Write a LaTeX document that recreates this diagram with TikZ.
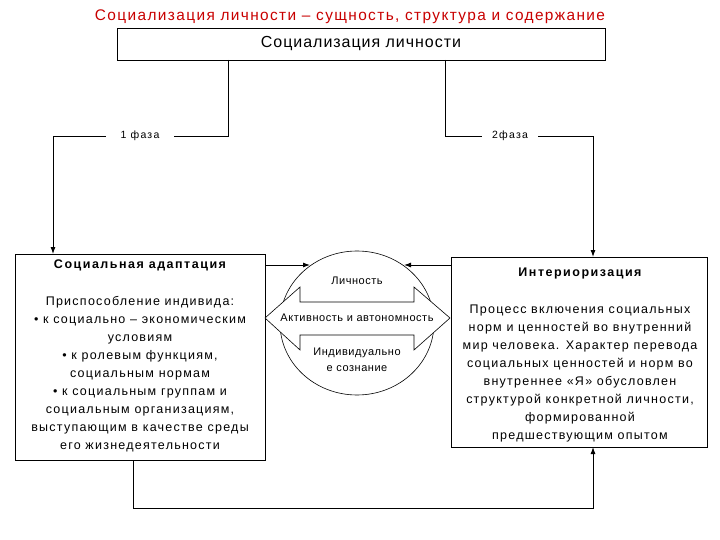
\documentclass[tikz,border=0pt]{standalone}
\usepackage{fontspec}
\setmainfont{Liberation Sans}
\newfontfamily\bodyf[LetterSpace=10]{Liberation Sans}
\newfontfamily\headf[LetterSpace=12]{Liberation Sans}
\newfontfamily\titlef[LetterSpace=9]{Liberation Sans}
\newfontfamily\topf[LetterSpace=6]{Liberation Sans}
\newfontfamily\midf[LetterSpace=5]{Liberation Sans}
\newfontfamily\phasef[LetterSpace=12]{Liberation Sans}
\usetikzlibrary{arrows.meta}
\definecolor{titlered}{RGB}{200,0,0}
\begin{document}
\begin{tikzpicture}[x=1pt,y=-1pt,
  line width=0.9pt,
  conn/.style={draw=black,line width=0.9pt},
  arr/.style={conn,-{Latex[length=7pt,width=5pt]}},
  box/.style={draw=black,line width=0.9pt,fill=white},
  thinbox/.style={draw=black,line width=0.6pt,fill=white},
  txt/.style={inner sep=0pt,align=center,font=\bodyf\fontsize{12.5}{18}\selectfont},
  head/.style={inner sep=0pt,align=center,font=\headf\bfseries\fontsize{12.5}{18}\selectfont},
  phase/.style={fill=white,inner ysep=2pt,font=\phasef\fontsize{10.5}{12}\selectfont},
  mid/.style={inner sep=0pt,align=center,font=\midf\fontsize{11}{16}\selectfont}
]
\useasboundingbox (0,0) rectangle (720,540);
% title
\node[text=titlered,font=\titlef\fontsize{15.4}{18}\selectfont] (title) at (350,17) {Социализация личности – сущность, структура и содержание};
% top box
\draw[box] (117,28) rectangle (605,60);
\node[font=\topf\fontsize{16}{18}\selectfont] (top) at (361,44) {Социализация личности};
\coordinate (topL) at (228,60);
\coordinate (topR) at (445,60);
% left box
\draw[box] (15,254) rectangle (265,460);
\node[head] (lt) at (140,265) {Социальная адаптация};
\node[txt] (lb) at (140,374) {Приспособление индивида:\\• к социально – экономическим\\условиям\\• к ролевым функциям,\\социальным нормам\\• к социальным группам и\\социальным организациям,\\выступающим в качестве среды\\его жизнедеятельности};
% right box
\draw[box] (451,257) rectangle (707,447);
\node[head] (rt) at (580,273) {Интериоризация};
\node[txt] (rb) at (580,373.5) {Процесс включения социальных\\норм и ценностей во внутренний\\мир человека. Характер перевода\\социальных ценностей и норм во\\внутреннее «Я» обусловлен\\структурой конкретной личности,\\формированной\\предшествующим опытом};
% middle
\draw[thinbox] (357,323) ellipse [x radius=77, y radius=72];
\draw[thinbox] (265,318) -- (300,287) -- (300,302) -- (414,302) -- (414,287) -- (450,318) -- (414,350) -- (414,335) -- (300,335) -- (300,350) -- cycle;
\node[mid] (lich) at (357,281) {Личность};
\node[mid] (akt) at (357,318) {Активность и автономность};
\node[mid] (ind) at (357,360) {Индивидуально\\е сознание};
% connectors
\draw[arr] (topL) -- (228,136) -- (53,136) -- (53,254);
\node[phase,inner xsep=15pt] (p1) at (140,136) {1 фаза};
\draw[arr] (topR) -- (445,136) -- (593,136) -- (593,257);
\node[phase,inner xsep=10pt] (p2) at (510,136) {2фаза};
\draw[arr] (265,265) -- (310,265);
\draw[arr] (451,265) -- (404,265);
\draw[arr] (133,460) -- (133,508) -- (593,508) -- (593,447);
\end{tikzpicture}
\end{document}
